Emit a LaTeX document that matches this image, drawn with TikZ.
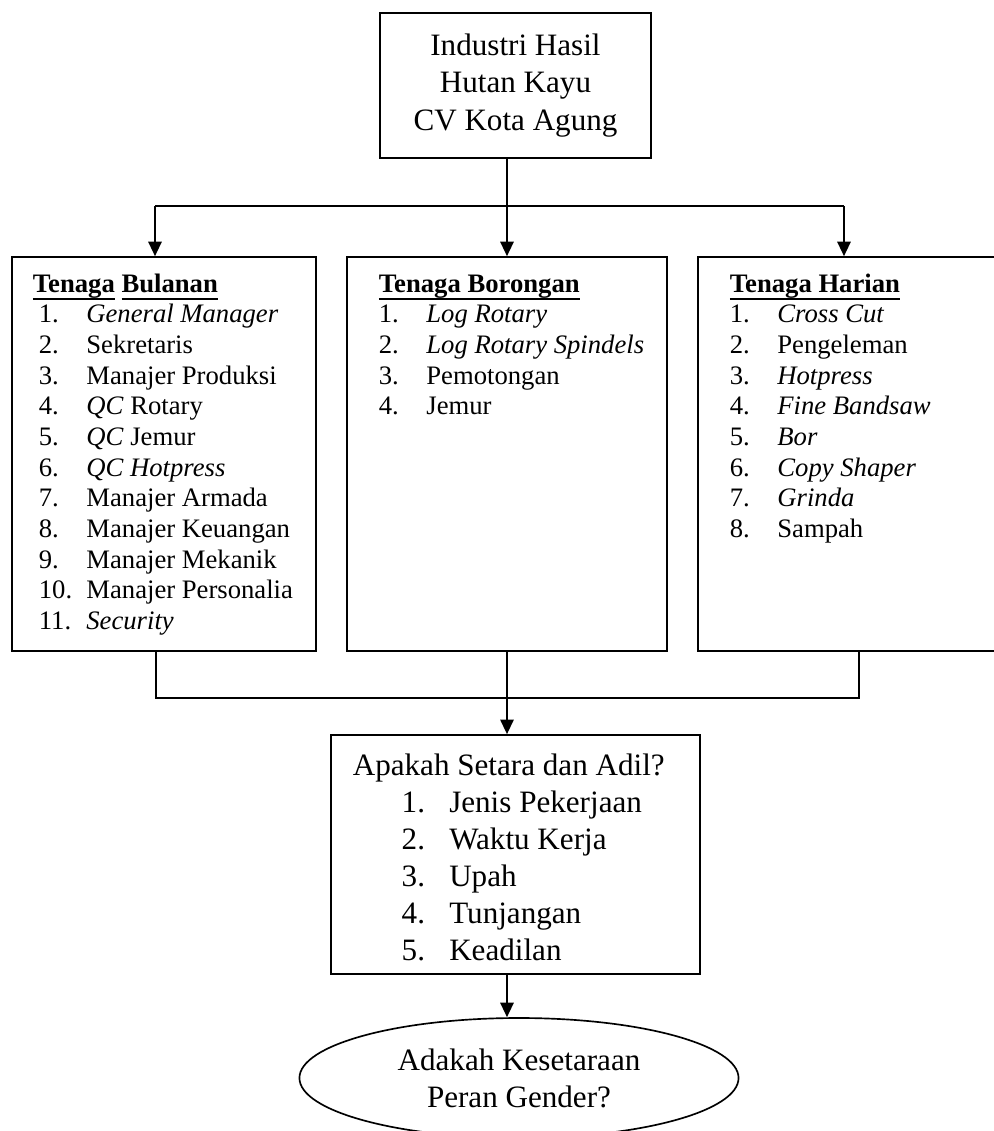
\documentclass[tikz,border=0pt]{standalone}
\usepackage{fontspec}
\setmainfont{Liberation Serif}
\usetikzlibrary{shapes.geometric}
\usetikzlibrary{positioning}
\usetikzlibrary{arrows.meta}
\newcommand{\butir}[2]{\makebox[21.4pt][l]{#1}#2}
\newcommand{\garis}[1]{\setbox0\hbox{#1}\rlap{\rule[-3.6pt]{\wd0}{0.75pt}}\box0}
\tikzset{every picture/.style={line width=0.75pt},
kotak/.style={draw, rectangle, inner sep=0pt},
daftar/.style={anchor=base west, inner sep=0pt, font=\fontsize{12}{13.8}\selectfont},
besar/.style={font=\fontsize{14}{16.7}\selectfont},
panah/.style={-{Triangle[length=6.5pt,width=6pt]}}}

\begin{document}
\begin{tikzpicture}[x=0.45pt, y=-0.45pt]
\clip (0,0) rectangle (994,1131);
\node (ind) at (515.5,85.5) [kotak, besar, align=center, minimum width=122pt, minimum height=65.25pt] {Industri Hasil\\Hutan Kayu\\CV Kota Agung};
\node (bul) at (164,454) [kotak, minimum width=136.8pt, minimum height=177.3pt] {};
\node (bor) at (507,454) [kotak, minimum width=144pt, minimum height=177.3pt] {};
\node (har) at (854,454) [kotak, minimum width=140.4pt, minimum height=177.3pt] {};
\node (krit) at (515.5,854.5) [kotak, minimum width=166pt, minimum height=107.6pt] {};
\node (gender) at (519,1078) [draw, ellipse, besar, align=center, inner sep=0pt, minimum width=197.6pt, minimum height=54pt] {Adakah Kesetaraan\\Peran Gender?};
\node (tbul) at (32,292) [daftar] {\begin{tabular}[t]{@{\hspace{2.7pt}}l@{}}
\multicolumn{1}{@{}l@{}}{\textbf{\garis{Tenaga}~\garis{Bulanan}}}\\
\butir{1.}{\textit{General Manager}}\\
\butir{2.}{Sekretaris}\\
\butir{3.}{Manajer Produksi}\\
\butir{4.}{\textit{QC} Rotary}\\
\butir{5.}{\textit{QC} Jemur}\\
\butir{6.}{\textit{QC Hotpress}}\\
\butir{7.}{Manajer Armada}\\
\butir{8.}{Manajer Keuangan}\\
\butir{9.}{Manajer Mekanik}\\
\butir{10.}{Manajer Personalia}\\
\butir{11.}{\textit{Security}}
\end{tabular}};
\node (tbor) at (378,292) [daftar] {\begin{tabular}[t]{@{}l@{}}
\textbf{\garis{Tenaga Borongan}}\\
\butir{1.}{\textit{Log Rotary}}\\
\butir{2.}{\textit{Log Rotary Spindels}}\\
\butir{3.}{Pemotongan}\\
\butir{4.}{Jemur}
\end{tabular}};
\node (thar) at (729,292) [daftar] {\begin{tabular}[t]{@{}l@{}}
\textbf{\garis{Tenaga Harian}}\\
\butir{1.}{\textit{Cross Cut}}\\
\butir{2.}{Pengeleman}\\
\butir{3.}{\textit{Hotpress}}\\
\butir{4.}{\textit{Fine Bandsaw}}\\
\butir{5.}{\textit{Bor}}\\
\butir{6.}{\textit{Copy Shaper}}\\
\butir{7.}{\textit{Grinda}}\\
\butir{8.}{Sampah}
\end{tabular}};
\node (tkrit) at (352,775) [daftar, besar] {\begin{tabular}[t]{@{}l@{}}
Apakah Setara dan Adil?\\
\hspace{22pt}\butir{1.}{Jenis Pekerjaan}\\
\hspace{22pt}\butir{2.}{Waktu Kerja}\\
\hspace{22pt}\butir{3.}{Upah}\\
\hspace{22pt}\butir{4.}{Tunjangan}\\
\hspace{22pt}\butir{5.}{Keadilan}
\end{tabular}};
\coordinate (atas kiri) at (155,206);
\coordinate (atas kanan) at (844,206);
\coordinate (bawah kiri) at (156,698);
\coordinate (bawah kanan) at (859,698);
\draw (atas kiri) -- (atas kanan);
\draw[panah] (ind.south -| bor.north) -- (bor.north);
\draw[panah] (atas kiri) -- (atas kiri |- bul.north);
\draw[panah] (atas kanan) -- (atas kanan |- har.north);
\draw (bawah kiri |- bul.south) -- (bawah kiri) -- (bawah kanan) -- (bawah kanan |- har.south);
\draw[panah] (bor.south) -- (bor.south |- krit.north);
\draw[panah] (bor.south |- krit.south) -- (bor.south |- gender.north);
\end{tikzpicture}
\end{document}
